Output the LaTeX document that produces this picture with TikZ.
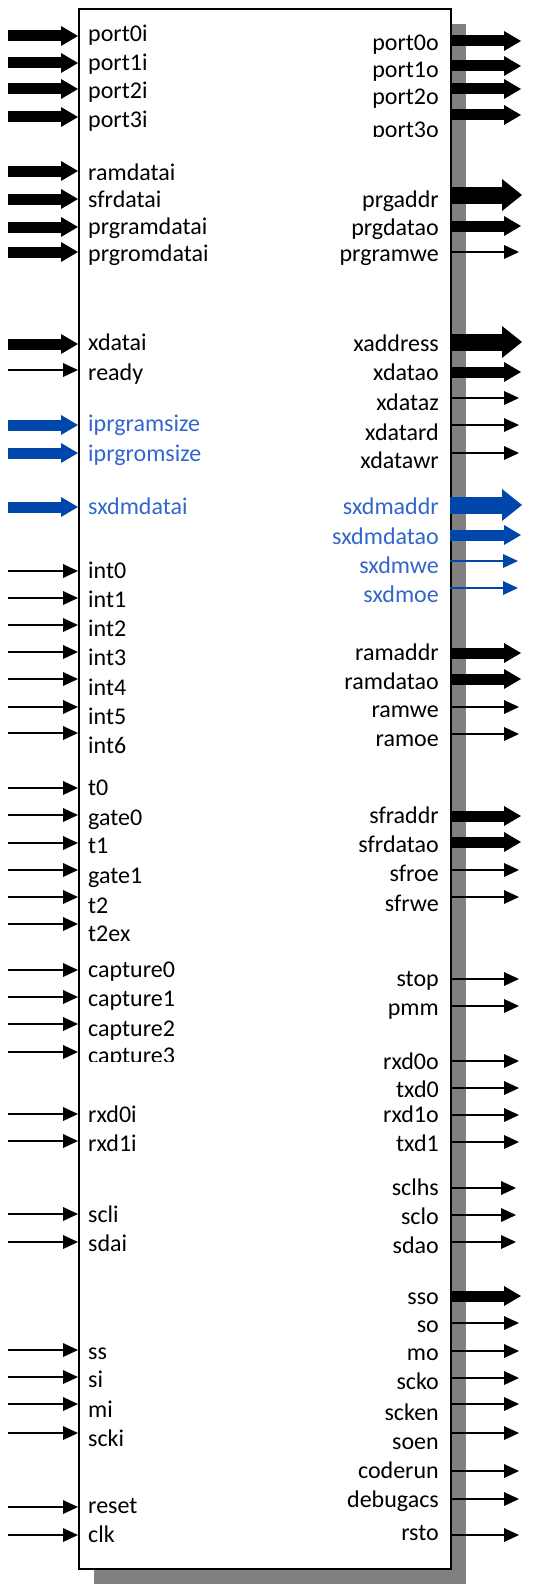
\documentclass[tikz,border=0pt]{standalone}
\usepackage{fontspec}
\setmainfont{Carlito}
\usetikzlibrary{arrows.meta}
\definecolor{arrblue}{RGB}{0,71,171}
\definecolor{txtblue}{RGB}{51,102,204}
\definecolor{shadowgray}{RGB}{128,128,128}
\tikzset{
  lbl/.style={inner sep=0pt, font=\fontsize{24}{29}\selectfont},
  lin/.style={lbl, anchor=base west},
  lout/.style={lbl, anchor=base east},
  ak/.style={text=black},
  ab/.style={text=txtblue},
  tk/.style={draw=black, line width=2pt, -{Triangle[length=15pt,width=14pt,line width=0pt]}},
  tb/.style={draw=arrblue, line width=2pt, -{Triangle[length=15pt,width=14pt,line width=0pt]}},
  hk/.style={draw=black, line width=11pt, -{Triangle[length=17pt,width=20pt,line width=0pt]}},
  hb/.style={draw=arrblue, line width=11pt, -{Triangle[length=17pt,width=20pt,line width=0pt]}},
  gk/.style={draw=black, line width=17pt, -{Triangle[length=20pt,width=32pt,line width=0pt]}},
  gb/.style={draw=arrblue, line width=17pt, -{Triangle[length=20pt,width=32pt,line width=0pt]}},
  chipbox/.style={draw=black, line width=2pt, fill=white, inner sep=0pt, anchor=north west,
    minimum width=372pt, minimum height=1560pt},
  shadowbox/.style={fill=shadowgray, inner sep=0pt, anchor=north west,
    minimum width=372pt, minimum height=1560pt}
}
\begin{document}
\begin{tikzpicture}[x=1pt,y=-1pt]
\useasboundingbox (0,0) rectangle (533,1584);
\node[shadowbox] (shadow) at (94,24) {};
\node[chipbox] (chip) at (78,8) {};
% inputs
\foreach \n/\ya/\yt/\st/\ts in {
  port0i/36/42/hk/ak, port1i/63/70.5/hk/ak, port2i/89/99/hk/ak, port3i/117/127.5/hk/ak,
  ramdatai/171/180/hk/ak, sfrdatai/199/207/hk/ak, prgramdatai/227/234/hk/ak, prgromdatai/252/261/hk/ak,
  xdatai/344/350/hk/ak, ready/370/380/tk/ak,
  iprgramsize/425/431/hb/ab, iprgromsize/453/461/hb/ab, sxdmdatai/507/514/hb/ab,
  int0/571/578/tk/ak, int1/598/607/tk/ak, int2/625/636/tk/ak, int3/652/665/tk/ak,
  int4/679/695/tk/ak, int5/707/724/tk/ak, int6/733/753/tk/ak,
  t0/788/795/tk/ak, gate0/815/825/tk/ak, t1/843/853/tk/ak, gate1/870/883/tk/ak,
  t2/897/913/tk/ak, t2ex/924/941/tk/ak,
  capture0/970/977/tk/ak, capture1/997/1006/tk/ak, capture2/1024/1036/tk/ak,
  rxd0i/1114/1122/tk/ak, rxd1i/1141/1151/tk/ak,
  scli/1214/1222/tk/ak, sdai/1242/1251/tk/ak,
  ss/1350/1359/tk/ak, si/1377/1387/tk/ak, mi/1404/1417/tk/ak, scki/1433/1446/tk/ak,
  reset/1507/1513/tk/ak, clk/1535/1542/tk/ak} {
  \coordinate (\n-s) at (8,\ya);
  \coordinate (\n-e) at (78,\ya);
  \draw[\st] (\n-s) -- (\n-e);
  \node[lin,\ts] (\n) at (88,\yt) {\n};
}
% capture3 (clipped text)
\coordinate (capture3-s) at (8,1052);
\coordinate (capture3-e) at (78,1052);
\draw[tk] (capture3-s) -- (capture3-e);
\begin{scope}
  \clip (85,1040) rectangle (200,1061);
  \node[lin] (capture3) at (88,1063) {capture3};
\end{scope}
% outputs
\foreach \n/\ya/\yt/\st/\ts/\xe in {
  port0o/41/51/hk/ak/521, port1o/66/78/hk/ak/521, port2o/89/105/hk/ak/521,
  prgaddr/195/207/gk/ak/522, prgdatao/226/235/hk/ak/521, prgramwe/252/261/tk/ak/519,
  xaddress/342/351/gk/ak/522, xdatao/372/380/hk/ak/521, xdataz/398/410/tk/ak/519,
  xdatard/425/440/tk/ak/519, xdatawr/453/468/tk/ak/519,
  sxdmaddr/505/514/gb/ab/522, sxdmdatao/535/544/hb/ab/521, sxdmwe/561/573/tb/ab/518,
  sxdmoe/588/602/tb/ab/518,
  ramaddr/653/660/hk/ak/521, ramdatao/679/689/hk/ak/521, ramwe/707/717/tk/ak/519,
  ramoe/734/746/tk/ak/519,
  sfraddr/816/823/hk/ak/521, sfrdatao/842/852/hk/ak/521, sfroe/870/881/tk/ak/519,
  sfrwe/897/911/tk/ak/519,
  stop/979/986/tk/ak/519, pmm/1006/1015/tk/ak/519,
  rxd0o/1061/1069/tk/ak/519, txd0/1088/1097/tk/ak/519, rxd1o/1115/1122/tk/ak/519,
  txd1/1142/1151/tk/ak/519,
  sclhs/1188/1195/tk/ak/516, sclo/1215/1224/tk/ak/516, sdao/1242/1253/tk/ak/516,
  sso/1296/1304/hk/ak/521, so/1323/1332/tk/ak/519, mo/1351/1360/tk/ak/519,
  scko/1378/1389/tk/ak/519, scken/1404/1420/tk/ak/519, soen/1433/1449/tk/ak/519,
  coderun/1471/1478/tk/ak/519, debugacs/1499/1507/tk/ak/519, rsto/1535/1540/tk/ak/519} {
  \coordinate (\n-s) at (450,\ya);
  \coordinate (\n-e) at (\xe,\ya);
  \draw[\st] (\n-s) -- (\n-e);
  \node[lout,\ts] (\n) at (439,\yt) {\n};
}
% port3o (clipped text)
\coordinate (port3o-s) at (450,115);
\coordinate (port3o-e) at (521,115);
\draw[hk] (port3o-s) -- (port3o-e);
\begin{scope}
  \clip (300,110) rectangle (445,136.5);
  \node[lout] (port3o) at (439,138) {port3o};
\end{scope}
\end{tikzpicture}
\end{document}
